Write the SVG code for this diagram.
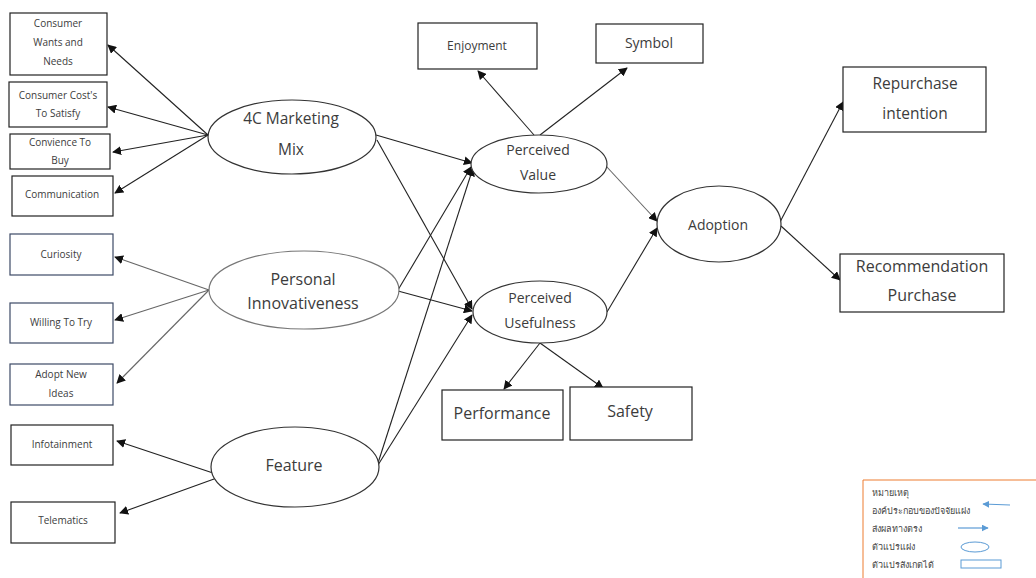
<svg xmlns="http://www.w3.org/2000/svg" width="1036" height="578" viewBox="0 0 1036 578">
  <defs>
    <marker id="arrow" viewBox="0 0 10 10" refX="9" refY="5" markerWidth="9" markerHeight="9" markerUnits="userSpaceOnUse" orient="auto">
      <path d="M0,0 L10,5 L0,10 Z" fill="#111"/>
    </marker>
    <marker id="arrowBlue" viewBox="0 0 10 10" refX="9" refY="5" markerWidth="7" markerHeight="7" markerUnits="userSpaceOnUse" orient="auto">
      <path d="M0,0 L10,5 L0,10 Z" fill="#5b9bd5"/>
    </marker>
  </defs>
  <style>
    text { font-family: "Open Sans", "Noto Sans", "DejaVu Sans", sans-serif; fill: #3c3c3c; text-anchor: middle; }
    .box { fill: #fff; stroke: #222; stroke-width: 1.2; }
    .box2 { fill: #fff; stroke: #3d4a66; stroke-width: 1.2; }
    .ell { fill: #fff; stroke: #333; stroke-width: 1.2; }
    .ellg { fill: #fff; stroke: #777; stroke-width: 1.2; }
    .edge { stroke: #222; stroke-width: 1.1; fill: none; marker-end: url(#arrow); }
    .edgeg { stroke: #666; stroke-width: 1.1; fill: none; marker-end: url(#arrow); }
    .s10 { font-size: 10px; }
    .s12 { font-size: 12px; }
    .s14 { font-size: 14px; }
    .s155 { font-size: 15.5px; }
    .s16 { font-size: 16px; }
    .s17 { font-size: 16.5px; }
    .leg { font-size: 9px; text-anchor: start; fill: #444; }
  </style>
  <rect width="1036" height="578" fill="#fff"/>

  <!-- connectors -->
  <g id="connectors">
    <!-- 4C Marketing Mix indicators -->
    <line class="edge" x1="208" y1="135" x2="108" y2="45"/>
    <line class="edge" x1="208" y1="135" x2="108" y2="107"/>
    <line class="edge" x1="208" y1="135" x2="113" y2="152"/>
    <line class="edge" x1="208" y1="135" x2="115" y2="193"/>
    <!-- Personal Innovativeness indicators -->
    <line class="edgeg" x1="209" y1="290" x2="115" y2="257"/>
    <line class="edgeg" x1="209" y1="290" x2="115" y2="320"/>
    <line class="edgeg" x1="209" y1="290" x2="117" y2="383"/>
    <!-- Feature indicators -->
    <line class="edge" x1="213" y1="473" x2="117" y2="441"/>
    <line class="edge" x1="214" y1="479" x2="120" y2="513"/>
    <!-- paths into Perceived Value / Usefulness -->
    <line class="edge" x1="376" y1="135" x2="472" y2="163"/>
    <line class="edge" x1="377" y1="140" x2="472" y2="309"/>
    <line class="edge" x1="398" y1="290" x2="471" y2="167"/>
    <line class="edge" x1="398" y1="291" x2="472" y2="311"/>
    <line class="edge" x1="378" y1="463" x2="473" y2="168"/>
    <line class="edge" x1="378" y1="465" x2="472" y2="315"/>
    <!-- Perceived Value indicators -->
    <line class="edge" x1="534" y1="135" x2="478" y2="71"/>
    <line class="edge" x1="540" y1="135" x2="627" y2="68"/>
    <!-- Perceived Usefulness indicators -->
    <line class="edge" x1="540" y1="343" x2="504" y2="389"/>
    <line class="edge" x1="540" y1="343" x2="603" y2="388"/>
    <!-- into Adoption -->
    <line class="edgeg" x1="606" y1="166" x2="657" y2="221"/>
    <line class="edge" x1="607" y1="312" x2="657" y2="228"/>
    <!-- Adoption outcomes -->
    <line class="edge" x1="780" y1="222" x2="843" y2="102"/>
    <line class="edge" x1="781" y1="226" x2="840" y2="280"/>
  </g>

  <!-- 4C Marketing Mix -->
  <g id="n-4c">
    <ellipse class="ell" cx="292" cy="137" rx="84" ry="37"/>
    <text class="s155" x="291" y="124">4C Marketing</text>
    <text class="s155" x="291" y="155">Mix</text>
  </g>
  <g id="n-wants">
    <rect class="box" x="10" y="13" width="97" height="62"/>
    <text class="s10" x="58" y="27">Consumer</text>
    <text class="s10" x="58" y="46">Wants and</text>
    <text class="s10" x="58" y="65">Needs</text>
  </g>
  <g id="n-cost">
    <rect class="box" x="9" y="82" width="98" height="45"/>
    <text class="s10" x="58" y="99">Consumer Cost's</text>
    <text class="s10" x="58" y="117">To Satisfy</text>
  </g>
  <g id="n-convience">
    <rect class="box" x="10" y="134" width="100" height="35"/>
    <text class="s10" x="60" y="146">Convience To</text>
    <text class="s10" x="60" y="164">Buy</text>
  </g>
  <g id="n-communication">
    <rect class="box" x="12" y="176" width="101" height="40"/>
    <text class="s10" x="62" y="198">Communication</text>
  </g>

  <!-- Personal Innovativeness -->
  <g id="n-pi">
    <ellipse class="ellg" cx="304" cy="290" rx="95" ry="39"/>
    <text class="s16" x="303" y="285">Personal</text>
    <text class="s16" x="303" y="309">Innovativeness</text>
  </g>
  <g id="n-curiosity">
    <rect class="box2" x="10" y="234" width="103" height="41"/>
    <text class="s10" x="61" y="258">Curiosity</text>
  </g>
  <g id="n-willing">
    <rect class="box2" x="10" y="303" width="103" height="40"/>
    <text class="s10" x="61" y="326">Willing To Try</text>
  </g>
  <g id="n-adopt">
    <rect class="box2" x="10" y="364" width="103" height="41"/>
    <text class="s10" x="61" y="378">Adopt New</text>
    <text class="s10" x="61" y="397">Ideas</text>
  </g>

  <!-- Feature -->
  <g id="n-feature">
    <ellipse class="ell" cx="295" cy="467" rx="84" ry="40"/>
    <text class="s16" x="294" y="471">Feature</text>
  </g>
  <g id="n-infotainment">
    <rect class="box" x="11" y="425" width="102" height="40"/>
    <text class="s10" x="62" y="448">Infotainment</text>
  </g>
  <g id="n-telematics">
    <rect class="box" x="11" y="502" width="104" height="41"/>
    <text class="s10" x="63" y="524">Telematics</text>
  </g>

  <!-- Perceived Value -->
  <g id="n-pv">
    <ellipse class="ell" cx="539" cy="164" rx="68" ry="29"/>
    <text class="s14" x="538" y="155">Perceived</text>
    <text class="s14" x="538" y="180">Value</text>
  </g>
  <g id="n-enjoyment">
    <rect class="box" x="418" y="23" width="119" height="46"/>
    <text class="s12" x="477" y="50">Enjoyment</text>
  </g>
  <g id="n-symbol">
    <rect class="box" x="596" y="24" width="107" height="39"/>
    <text class="s14" x="649" y="48">Symbol</text>
  </g>

  <!-- Perceived Usefulness -->
  <g id="n-pu">
    <ellipse class="ell" cx="540" cy="312" rx="67" ry="31"/>
    <text class="s14" x="540" y="303">Perceived</text>
    <text class="s14" x="540" y="328">Usefulness</text>
  </g>
  <g id="n-performance">
    <rect class="box" x="442" y="390" width="121" height="50"/>
    <text class="s16" x="502" y="419">Performance</text>
  </g>
  <g id="n-safety">
    <rect class="box" x="570" y="387" width="122" height="53"/>
    <text class="s16" x="630" y="417">Safety</text>
  </g>

  <!-- Adoption -->
  <g id="n-adoption">
    <ellipse class="ell" cx="719" cy="224" rx="62" ry="38"/>
    <text class="s14" x="718" y="230">Adoption</text>
  </g>
  <g id="n-repurchase">
    <rect class="box" x="843" y="67" width="143" height="65"/>
    <text class="s155" x="915" y="89">Repurchase</text>
    <text class="s155" x="915" y="119">intention</text>
  </g>
  <g id="n-recommendation">
    <rect class="box" x="840" y="254" width="164" height="58"/>
    <text class="s16" x="922" y="272">Recommendation</text>
    <text class="s16" x="922" y="301">Purchase</text>
  </g>

  <!-- Legend -->
  <g id="legend">
    <polyline points="1040,480 863,480 863,582" fill="none" stroke="#ed7d31" stroke-width="1"/>
    <text class="leg" x="872" y="496">หมายเหตุ</text>
    <text class="leg" x="872" y="514">องค์ประกอบของปัจจัยแฝง</text>
    <line x1="1010" y1="505" x2="983" y2="504" stroke="#5b9bd5" stroke-width="1.2" marker-end="url(#arrowBlue)"/>
    <text class="leg" x="872" y="532">ส่งผลทางตรง</text>
    <line x1="958" y1="528" x2="988" y2="528" stroke="#5b9bd5" stroke-width="1.2" marker-end="url(#arrowBlue)"/>
    <text class="leg" x="872" y="550">ตัวแปรแฝง</text>
    <ellipse cx="975" cy="547" rx="14" ry="5" fill="none" stroke="#5b9bd5" stroke-width="1"/>
    <text class="leg" x="872" y="568">ตัวแปรสังเกตได้</text>
    <rect x="961" y="560" width="40" height="8" fill="none" stroke="#5b9bd5" stroke-width="1"/>
  </g>
</svg>
